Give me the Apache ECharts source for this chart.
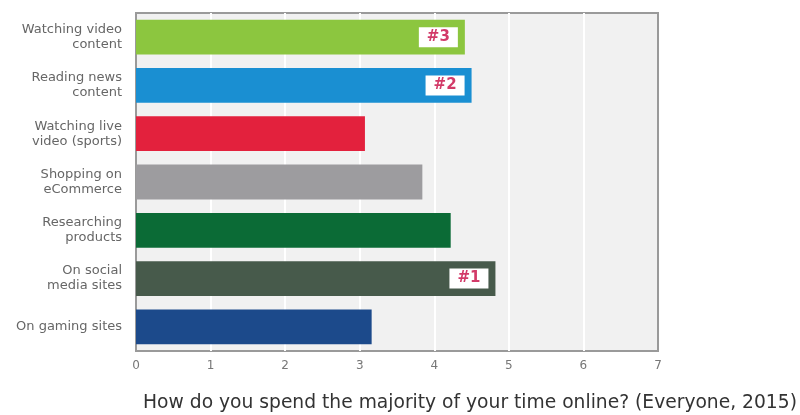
<!DOCTYPE html>
<html><head><meta charset="utf-8">
<script src="https://cdn.jsdelivr.net/npm/echarts@6/dist/echarts.min.js"></script>
<style>html,body{margin:0;padding:0;background:#fff;}#c{width:800px;height:415px;}</style>
</head><body><div id="c"></div>
<script>
const categories = ['Watching video\ncontent','Reading news\ncontent','Watching live\nvideo (sports)','Shopping on\neCommerce','Researching\nproducts','On social\nmedia sites','On gaming sites'];
const values = [4.41, 4.5, 3.07, 3.84, 4.22, 4.82, 3.16];
const ranks = ['#3','#2','','','','#1',''];
const barColors = ['#8cc63f','#1a8fd2','#e3213d','#9d9c9f','#0b6b36','#475a4b','#1c4a8b'];
const xTicks = [0,1,2,3,4,5,6,7];
const titleText = 'How do you spend the majority of your time online? (Everyone, 2015)';

const chart = echarts.init(document.getElementById('c'), null, {renderer:'canvas'});
chart.setOption({
  animation:false,
  title:{text:titleText,left:465,textAlign:'center',top:389,textStyle:{fontFamily:'DejaVu Sans',fontSize:18.7,fontWeight:'normal',color:'#333'}},
  grid:{left:136,right:142,top:13,bottom:64,show:true,backgroundColor:'#f1f1f1',borderColor:'#9a9a9a',borderWidth:2},
  xAxis:{type:'value',min:xTicks[0],max:xTicks[xTicks.length-1],interval:1,
    axisLine:{show:false},axisTick:{show:false},
    splitLine:{show:true,showMinLine:false,showMaxLine:false,lineStyle:{color:'#ffffff',width:2}},
    axisLabel:{color:'#777',fontSize:12,fontFamily:'DejaVu Sans',margin:9}},
  yAxis:{type:'category',data:categories,inverse:true,
    axisLine:{show:false},axisTick:{show:false},
    axisLabel:{color:'#666',fontSize:13,lineHeight:15,fontFamily:'DejaVu Sans',margin:14,align:'right'}},
  series:[{type:'bar',barWidth:'72%',
    data:values.map((v,i)=>({value:v,itemStyle:{color:barColors[i]},
      label:{show:!!ranks[i],position:'insideRight',distance:7,
        formatter:ranks[i],backgroundColor:'#ffffff',padding:[3,8,2,8],
        color:'#d23a68',fontWeight:'bold',fontSize:15,fontFamily:'DejaVu Sans'}}))
  }]
});
</script></body></html>
